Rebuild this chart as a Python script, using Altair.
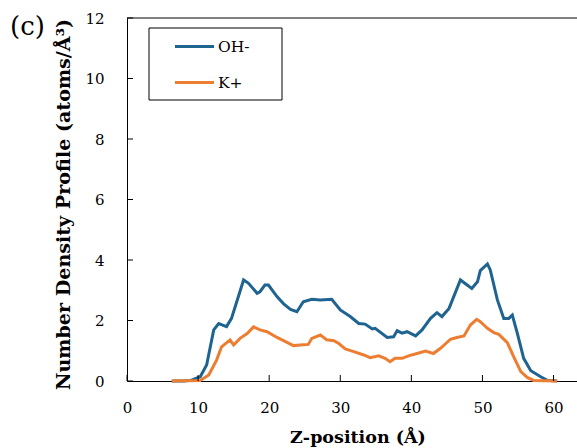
import altair as alt
import pandas as pd

series_names = ["OH-", "K+"]
series_colors = ["#1F6391", "#ED7D31"]

z_oh = [6.3, 8.0, 9.0, 10.3, 11.2, 12.2, 12.9, 14.0, 14.7, 16.4, 17.1, 18.3, 18.7, 19.4, 19.9,
        21.1, 22.0, 23.0, 23.9, 24.8, 26.0, 27.2, 28.8, 30.0, 31.4, 32.6, 33.5, 34.5, 34.9,
        36.6, 37.5, 38.0, 38.7, 39.4, 40.6, 41.5, 42.7, 43.6, 44.3, 45.3, 46.9, 48.5, 49.3,
        49.7, 50.7, 51.1, 52.1, 53.0, 53.7, 54.2, 54.9, 55.8, 56.8, 58.2, 59.1, 60.5]
oh = [0, 0, 0.02, 0.14, 0.53, 1.69, 1.9, 1.8, 2.07, 3.34, 3.23, 2.9, 2.95, 3.17, 3.17,
      2.79, 2.56, 2.37, 2.29, 2.62, 2.70, 2.68, 2.70, 2.35, 2.13, 1.90, 1.88, 1.72, 1.74,
      1.44, 1.46, 1.66, 1.58, 1.63, 1.49, 1.69, 2.07, 2.26, 2.13, 2.40, 3.34, 3.06, 3.28,
      3.65, 3.87, 3.67, 2.68, 2.07, 2.07, 2.18, 1.58, 0.75, 0.34, 0.14, 0.02, 0]

z_k = [6.3, 10.3, 11.5, 12.6, 13.3, 14.5, 15.0, 15.9, 16.9, 17.8, 18.7, 19.7, 21.1, 22.3,
       23.4, 24.4, 25.5, 26.0, 27.2, 28.1, 29.1, 29.8, 30.7, 31.9, 33.3, 34.2, 35.4, 36.3,
       37.0, 37.7, 38.7, 39.6, 40.8, 42.0, 43.1, 44.1, 45.5, 46.4, 47.4, 48.3, 49.2, 49.7,
       50.7, 51.6, 52.3, 53.5, 54.4, 55.4, 56.3, 57.2, 60.5]
k = [0, 0.02, 0.2, 0.69, 1.13, 1.36, 1.19, 1.41, 1.57, 1.79, 1.69, 1.63, 1.44, 1.30,
     1.17, 1.19, 1.21, 1.41, 1.52, 1.36, 1.33, 1.24, 1.06, 0.97, 0.86, 0.77, 0.83, 0.75,
     0.64, 0.75, 0.75, 0.83, 0.91, 0.99, 0.91, 1.08, 1.38, 1.44, 1.49, 1.85, 2.04, 1.96,
     1.74, 1.60, 1.54, 1.27, 0.80, 0.31, 0.12, 0.02, 0]

x_ticks = [0, 10, 20, 30, 40, 50, 60]
y_ticks = [0, 2, 4, 6, 8, 10, 12]

FONT = "DejaVu Serif"
W, H = 450, 363

df = pd.concat([
    pd.DataFrame({"z": z_oh, "v": oh, "s": series_names[0], "o": 0}),
    pd.DataFrame({"z": z_k, "v": k, "s": series_names[1], "o": 1}),
])

xs = alt.Scale(domain=[0, 63.3], nice=False, zero=False)
ys = alt.Scale(domain=[0, 12], nice=False)
xa = alt.Axis(values=x_ticks, title="Z-position (Å)", grid=False, ticks=False, labelFlush=False,
              labelPadding=19, titlePadding=13, titleFontSize=17.5, titleX=230.5)
ya = alt.Axis(values=y_ticks, title="Number Density Profile (atoms/Å³)", grid=False, ticks=False,
              labelFlush=False, labelPadding=23, titlePadding=11, format="d",
              titleFontSize=19.1, titleY=186)

lines = alt.Chart(df).mark_line(strokeWidth=3).encode(
    x=alt.X("z:Q", scale=xs, axis=xa),
    y=alt.Y("v:Q", scale=ys, axis=ya),
    color=alt.Color("s:N", scale=alt.Scale(domain=series_names, range=series_colors), legend=None),
    order="o:Q",
)

yt = alt.Chart(pd.DataFrame({"t": y_ticks})).mark_rule(color="black").encode(
    y=alt.Y("t:Q", scale=ys, axis=ya), x=alt.value(0), x2=alt.value(6))
xt = alt.Chart(pd.DataFrame({"t": x_ticks})).mark_rule(color="black").encode(
    x=alt.X("t:Q", scale=xs, axis=xa), y=alt.value(H), y2=alt.value(H - 6))
top = alt.Chart(pd.DataFrame({"a": [0]})).mark_rule(color="black").encode(
    x=alt.value(0), x2=alt.value(W), y=alt.value(0))

box = alt.Chart(pd.DataFrame({"a": [0]})).mark_rect(fill="white", stroke="black", strokeWidth=1).encode(
    x=alt.value(22), x2=alt.value(155), y=alt.value(10), y2=alt.value(82))
leg_lines = []
leg_texts = []
for i, name in enumerate(series_names):
    yy = [28.5, 64.5][i]
    d = pd.DataFrame({"s": [name]})
    leg_lines.append(alt.Chart(d).mark_rule(strokeWidth=3, color=series_colors[i]).encode(
        x=alt.value(48), x2=alt.value(87), y=alt.value(yy)))
    leg_texts.append(alt.Chart(d).mark_text(align="left", baseline="middle", font=FONT, fontSize=15.5,
                                            color="black").encode(
        x=alt.value(91), y=alt.value(yy), text="s:N"))

label_c = alt.Chart(pd.DataFrame({"t": ["(c)"]})).mark_text(
    align="left", baseline="middle", font=FONT, fontSize=26, color="black").encode(
    x=alt.value(-117), y=alt.value(9), text="t:N")

chart = alt.layer(lines, yt, xt, top, box, *leg_lines, *leg_texts, label_c).properties(
    width=W, height=H,
    autosize=alt.AutoSizeParams(type="none"),
    padding={"left": 127, "top": 18, "right": 0, "bottom": 67},
    background="white",
).configure_view(strokeWidth=0).configure_axis(
    labelFont=FONT, titleFont=FONT, labelFontSize=15, titleFontWeight="bold",
    labelColor="black", titleColor="black", domainColor="black", domainWidth=1,
)

chart.save("out.html", embed_options={"renderer": "svg", "actions": False})
